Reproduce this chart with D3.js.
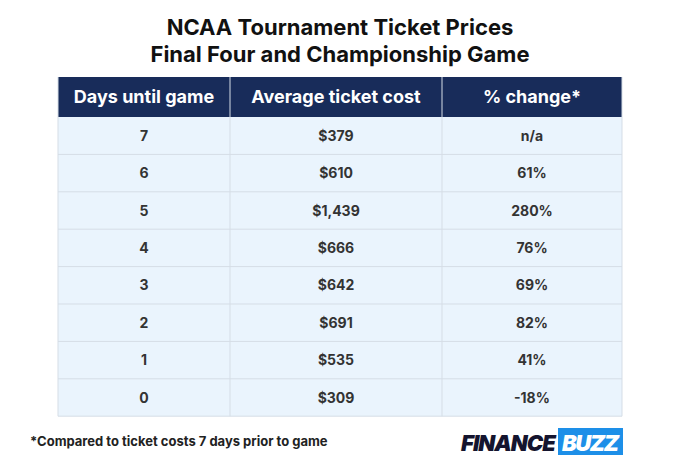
<!DOCTYPE html>
<html><head><meta charset="utf-8">
<script src="https://cdn.jsdelivr.net/npm/d3@7"></script>
<style>body{margin:0;background:#fff;font-family:Inter,Roboto,sans-serif}</style>
</head><body>
<svg id="c" width="680" height="465"></svg>
<script>
const titleLines = ['NCAA Tournament Ticket Prices', 'Final Four and Championship Game'];
const headers = ['Days until game', 'Average ticket cost', '% change*'];
const days = ['7', '6', '5', '4', '3', '2', '1', '0'];
const costs = ['$379', '$610', '$1,439', '$666', '$642', '$691', '$535', '$309'];
const changes = ['n/a', '61%', '280%', '76%', '69%', '82%', '41%', '-18%'];
const footnote = '*Compared to ticket costs 7 days prior to game';

const svg = d3.select('#c');
const colEdges = [58, 230, 442, 622];
const headTop = 77, headH = 40, rowH = 37.4;
const y = d3.scaleBand().domain(d3.range(days.length)).range([headTop + headH, headTop + headH + rowH * days.length]);

svg.selectAll('text.t').data(titleLines).join('text')
  .attr('x', 340).attr('y', (d, i) => 35 + i * 27).attr('text-anchor', 'middle')
  .attr('font-size', 22).attr('font-weight', 700).attr('fill', '#111').text(d => d);

svg.append('rect').attr('x', 58).attr('y', headTop).attr('width', 564).attr('height', headH).attr('fill', '#182c5a');
headers.forEach((h, i) => {
  svg.append('text').attr('x', (colEdges[i] + colEdges[i + 1]) / 2).attr('y', headTop + headH / 2 + 6)
    .attr('text-anchor', 'middle').attr('fill', '#fff').attr('font-size', 18).attr('font-weight', 700).text(h);
});
svg.append('rect').attr('x', 58).attr('y', y(0)).attr('width', 564).attr('height', rowH * days.length).attr('fill', '#eaf4fd');
const rows = days.map((d, i) => [d, costs[i], changes[i]]);
rows.forEach((r, ri) => {
  svg.append('line').attr('x1', 58).attr('x2', 622).attr('y1', y(ri) + rowH).attr('y2', y(ri) + rowH).attr('stroke', '#d5dde6');
  r.forEach((v, ci) => {
    svg.append('text').attr('x', (colEdges[ci] + colEdges[ci + 1]) / 2).attr('y', y(ri) + rowH / 2 + 5)
      .attr('text-anchor', 'middle').attr('fill', '#333').attr('font-size', 14).attr('font-weight', 700).text(v);
  });
});
colEdges.forEach(x => {
  svg.append('line').attr('x1', x).attr('x2', x).attr('y1', headTop)
    .attr('y2', y(days.length - 1) + rowH).attr('stroke', '#d5dde6');
});

svg.append('text').attr('x', 30).attr('y', 446).attr('font-size', 13).attr('font-weight', 700).attr('fill', '#222').text(footnote);

const logo = svg.append('g');
logo.append('text').attr('x', 461).attr('y', 451).attr('font-size', 22).attr('font-weight', 900)
  .attr('font-style', 'italic').attr('fill', '#14142e').attr('textLength', 95).text('FINANCE');
logo.append('rect').attr('x', 558).attr('y', 428).attr('width', 65).attr('height', 27).attr('fill', '#1d8fe8');
logo.append('text').attr('x', 562).attr('y', 451).attr('font-size', 22).attr('font-weight', 900)
  .attr('font-style', 'italic').attr('fill', '#fff').attr('textLength', 57).text('BUZZ');
</script>
</body></html>
